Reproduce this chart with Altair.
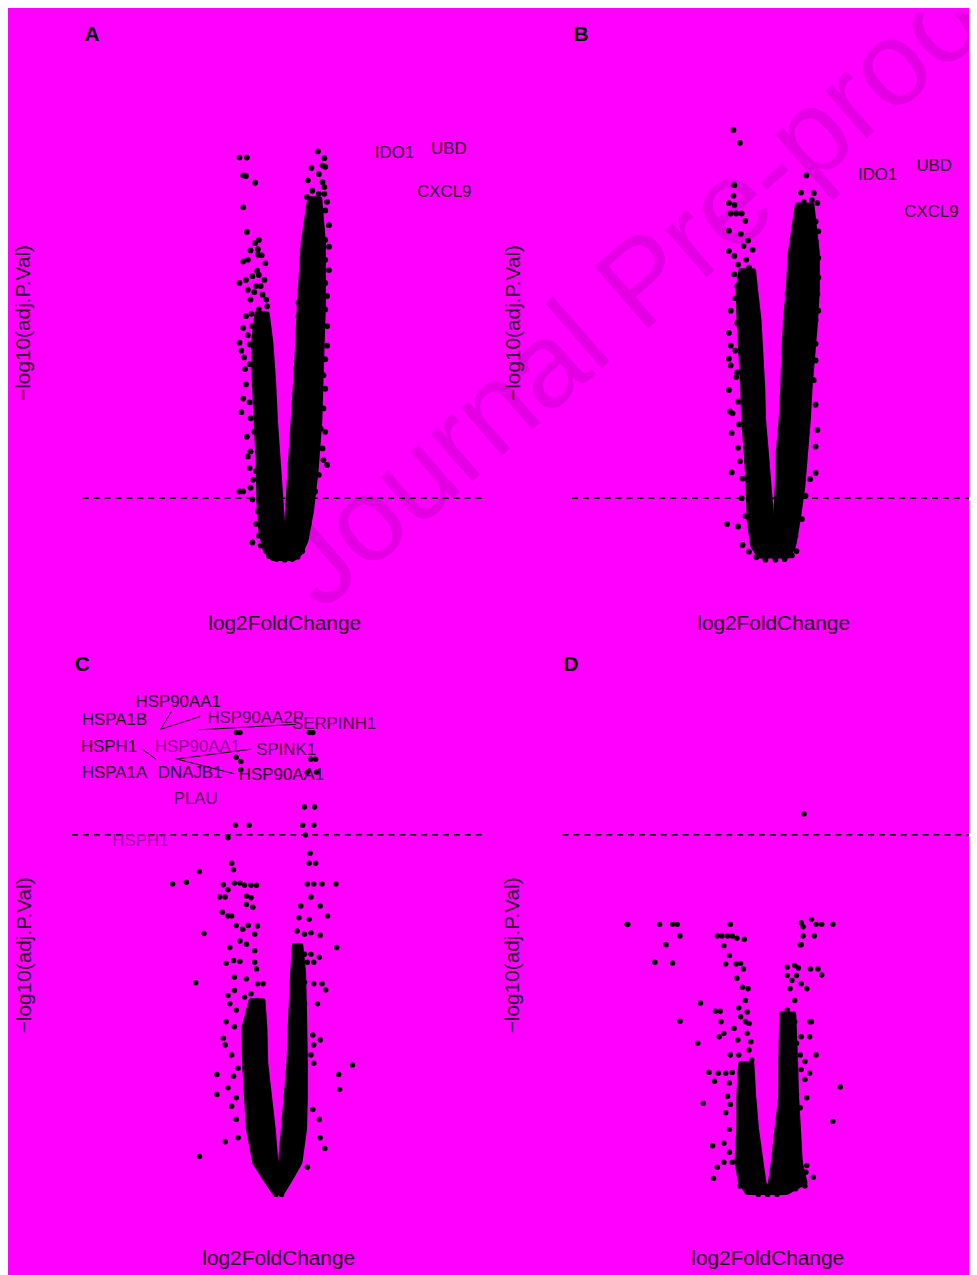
import altair as alt
import pandas as pd

BG = "#FF00FF"
FONT = "Liberation Sans"
WM_COLOR = "#E300E3"
WATERMARK = "Journal Pre-proof"

# ---------------- values ----------------
# scattered genes: (log2FoldChange, -log10(adj.P.Val))
A_left = [(-0.49,6.54),(-0.41,6.54),(-0.45,6.25),(-0.42,6.24),(-0.32,6.13),(-0.45,5.73),(-0.41,5.33),
          (-0.28,5.20),(-0.32,5.15),(-0.37,5.03),(-0.29,5.05),(-0.45,4.85),(-0.40,4.88),(-0.29,4.96),
          (-0.21,4.82),(-0.49,4.50),(-0.42,4.55),(-0.35,4.61),(-0.28,4.63),(-0.22,4.55),(-0.40,4.39),
          (-0.31,4.45),(-0.24,4.31),(-0.37,4.23),(-0.20,4.23),(-0.42,3.96),(-0.28,4.07),(-0.19,4.12),
          (-0.45,3.77),(-0.35,3.80),(-0.49,3.53),(-0.38,3.50),(-0.47,3.40),(-0.44,3.29),(-0.38,3.18),
          (-0.31,3.05),(-0.45,2.62),(-0.38,2.56),(-0.47,2.40),(-0.37,2.30),(-0.33,2.08),(-0.37,1.76),
          (-0.40,1.68),(-0.38,1.49),(-0.31,1.44),(-0.49,1.11),(-0.45,1.11),(-0.37,1.17),(-0.35,0.98),
          (-0.29,0.79),(-0.31,0.58),(-0.35,0.28),(-0.28,0.39),(-0.26,0.23),(-0.33,4.35),(-0.26,4.45),
          (-0.30,4.70),(-0.25,4.95),(-0.36,4.00),(-0.23,3.95),(-0.40,3.65),(-0.43,3.10),(-0.42,2.85),
          (-0.41,2.00),(-0.34,1.30),(-0.17,0.06),(-0.09,0.01),(0.00,0.00),(0.08,0.01),(0.14,0.05),
          (-0.20,0.14),(0.19,0.14)]
A_right = [(0.36,6.64),(0.43,6.53),(0.41,6.41),(0.44,6.39),(0.29,6.37),(0.37,6.27),(0.25,6.17),(0.41,6.14),
           (0.43,6.06),(0.37,5.95),(0.43,5.95),(0.24,5.90),(0.32,5.84),(0.46,5.82),(0.26,5.74),(0.44,5.68),
           (0.24,5.33),(0.48,5.44),(0.44,5.20),(0.23,5.15),(0.48,5.09),(0.21,4.90),(0.44,4.88),(0.21,4.71),
           (0.48,4.71),(0.44,4.50),(0.17,4.39),(0.46,4.29),(0.15,4.18),(0.44,4.07),(0.15,3.96),(0.46,3.80),
           (0.14,3.53),(0.46,3.48),(0.44,3.26),(0.12,3.10),(0.42,3.00),(0.44,2.78),(0.10,2.51),(0.42,2.46),
           (0.39,2.13),(0.44,2.08),(0.41,1.81),(0.46,1.54),(0.42,1.62),(0.37,1.38),(0.33,1.11),(0.28,0.84),
           (0.26,0.58),(0.23,0.36),(0.30,6.00),(0.35,5.60),(0.28,5.50),(0.40,5.30),(0.33,5.05)]
# dense core of each arm: (-log10 p, log2FC from, log2FC to)
A_core_left = [(4.00,-0.30,-0.19),(3.53,-0.34,-0.15),(2.89,-0.33,-0.12),(2.24,-0.31,-0.10),(1.60,-0.29,-0.07),
               (0.95,-0.28,-0.04),(0.47,-0.26,-0.02),(0.15,-0.21,-0.01),(0.02,-0.13,0.00)]
A_core_right = [(5.87,0.27,0.38),(5.15,0.20,0.42),(4.18,0.16,0.42),(3.21,0.13,0.40),(2.24,0.09,0.38),
                (1.44,0.055,0.34),(0.79,0.03,0.29),(0.31,0.012,0.23),(0.11,0.00,0.17),(0.02,0.00,0.10)]
A_labels = ["IDO1", "UBD", "CXCL9"]
A_label_x = [1.19, 1.78, 1.73]
A_label_y = [6.61, 6.68, 5.98]

B_left = [(-0.44,6.99),(-0.37,6.78),(-0.43,6.09),(-0.44,5.92),(-0.49,5.80),(-0.43,5.77),(-0.47,5.63),
          (-0.41,5.63),(-0.35,5.63),(-0.31,5.51),(-0.49,5.35),(-0.28,5.19),(-0.23,5.04),(-0.49,5.02),
          (-0.43,4.94),(-0.39,4.80),(-0.43,4.64),(-0.30,4.88),(-0.27,4.75),(-0.47,4.05),(-0.49,3.69),
          (-0.47,3.48),(-0.49,3.27),(-0.47,3.16),(-0.41,2.97),(-0.49,2.76),(-0.39,2.57),(-0.48,2.41),
          (-0.45,2.38),(-0.46,2.06),(-0.39,1.82),(-0.46,1.42),(-0.34,1.32),(-0.31,0.71),(-0.51,0.58),
          (-0.39,0.54),(-0.34,0.24),(-0.36,5.30),(-0.33,5.10),(-0.40,4.45),(-0.42,4.25),(-0.40,3.85),
          (-0.42,3.40),(-0.40,3.05),(-0.38,2.20),(-0.37,1.60),(-0.35,1.00),(-0.27,0.13),(-0.19,0.04),
          (-0.09,0.00),(0.02,0.00),(0.12,0.01),(0.20,0.07),(0.25,0.14)]
B_right = [(0.36,6.25),(0.30,5.97),(0.44,5.96),(0.33,5.82),(0.42,5.85),(0.48,5.80),(0.24,5.50),(0.46,5.50),
           (0.49,5.34),(0.46,5.18),(0.49,4.91),(0.20,4.91),(0.18,4.64),(0.49,4.59),(0.48,4.32),(0.49,4.05),
           (0.15,4.32),(0.46,3.89),(0.13,3.89),(0.46,3.51),(0.46,3.24),(0.11,3.35),(0.44,2.92),(0.46,2.52),
           (0.48,2.11),(0.46,1.84),(0.46,1.41),(0.40,1.31),(0.35,1.04),(0.31,0.66),(0.24,0.39),(0.28,5.70),
           (0.38,5.65),(0.22,5.20)]
B_core_left = [(4.70,-0.36,-0.22),(4.42,-0.39,-0.20),(3.89,-0.38,-0.16),(3.35,-0.36,-0.14),(2.81,-0.34,-0.12),
               (2.27,-0.33,-0.11),(1.74,-0.30,-0.08),(1.19,-0.28,-0.05),(0.66,-0.27,-0.02),(0.23,-0.23,0.00),
               (0.06,-0.16,0.00)]
B_core_right = [(5.77,0.26,0.42),(4.97,0.18,0.48),(4.42,0.16,0.48),(3.89,0.13,0.46),(3.35,0.11,0.43),
                (2.81,0.10,0.40),(2.27,0.08,0.38),(1.74,0.05,0.35),(1.19,0.04,0.32),(0.66,0.02,0.27),
                (0.23,0.01,0.22),(0.06,0.00,0.16)]
B_labels = ["IDO1", "UBD", "CXCL9"]
B_label_x = [1.14, 1.76, 1.73]
B_label_y = [6.25, 6.41, 5.66]

C_genes = [(-0.46,1.669),(-0.42,1.669),(0.33,1.669),(0.37,1.669),(-0.46,1.580),(-0.41,1.564),(0.35,1.573),
           (0.40,1.573),(-0.41,1.535),(0.31,1.526),(0.41,1.526),(0.28,1.400),(0.39,1.400),(-0.47,1.334),
           (-0.32,1.334),(0.26,1.334),(0.38,1.334),(-0.55,1.289),(0.29,1.299),(0.34,1.233),(0.33,1.197),
           (0.40,1.197),(-0.51,1.197),(-0.49,1.173),(-0.86,1.167),(-1.15,1.122),(-1.00,1.128),(-0.60,1.119),
           (-0.55,1.101),(-0.48,1.125),(-0.42,1.125),(-0.37,1.117),(-0.30,1.117),(-0.24,1.117),(-0.64,1.075),
           (-0.58,1.075),(-0.35,1.078),(-0.30,1.072),(0.31,1.122),(0.38,1.122),(0.47,1.122),(0.62,1.122),
           (0.35,1.075),(0.45,1.042),(0.24,1.042),(-0.61,1.020),(-0.55,1.006),(-0.51,1.006),(-0.35,1.048),
           (-0.28,1.038),(0.53,1.006),(0.22,1.000),(0.33,0.994),(-0.81,0.943),(-0.46,0.972),(-0.39,0.958),
           (-0.33,0.972),(-0.26,0.940),(-0.23,0.970),(0.20,0.952),(0.28,0.940),(0.35,0.946),(0.45,0.937),
           (0.63,0.892),(-0.53,0.892),(-0.42,0.916),(-0.35,0.904),(-0.26,0.881),(0.20,0.892),(0.28,0.868),
           (0.35,0.868),(0.44,0.857),(-0.57,0.835),(-0.49,0.845),(-0.42,0.842),(-0.26,0.839),(-0.24,0.815),
           (0.17,0.839),(0.24,0.839),(0.31,0.839),(0.38,0.839),(-0.90,0.765),(-0.48,0.785),(-0.35,0.779),
           (-0.23,0.761),(-0.17,0.761),(0.24,0.803),(0.28,0.767),(0.38,0.761),(0.47,0.761),(0.51,0.739),
           (-0.55,0.719),(-0.48,0.737),(-0.37,0.713),(-0.30,0.725),(-0.23,0.701),(0.19,0.713),(0.28,0.689),
           (0.42,0.689),(-0.53,0.689),(-0.46,0.666),(-0.57,0.624),(-0.48,0.606),(-0.60,0.564),(-0.58,0.540),
           (-0.51,0.504),(-0.44,0.456),(-0.49,0.427),(0.37,0.576),(0.38,0.540),(0.45,0.558),(0.35,0.504),
           (0.38,0.474),(0.80,0.468),(0.65,0.433),(0.66,0.379),(-0.67,0.433),(-0.67,0.361),(-0.55,0.385),
           (-0.46,0.349),(-0.51,0.319),(-0.46,0.271),(0.37,0.307),(0.44,0.271),(0.45,0.205),(0.50,0.166),
           (-0.58,0.190),(-0.44,0.205),(-0.86,0.137),(0.31,0.098),(-0.03,0.000),(0.03,0.000)]
C_core_left = [(0.70,-0.30,-0.17),(0.60,-0.38,-0.15),(0.473,-0.37,-0.14),(0.355,-0.35,-0.10),(0.237,-0.33,-0.06),
               (0.115,-0.26,-0.03),(0.057,-0.15,-0.01),(0.007,-0.05,0.00)]
C_core_right = [(0.90,0.17,0.24),(0.80,0.15,0.27),(0.652,0.13,0.28),(0.473,0.11,0.29),(0.355,0.08,0.29),
                (0.237,0.05,0.28),(0.115,0.02,0.23),(0.057,0.00,0.13),(0.007,0.00,0.04)]
C_labels = ["HSP90AA1", "HSPA1B", "HSP90AA2P", "SERPINH1", "HSPH1", "HSP90AA1",
            "SPINK1", "HSPA1A", "DNAJB1", "HSP90AA1", "PLAU", "HSPH1"]
C_label_x = [-1.09, -1.78, -0.25, 0.60, -1.84, -0.88, 0.08, -1.78, -0.96, 0.03, -0.90, -1.50]
C_label_y = [1.779, 1.714, 1.723, 1.699, 1.615, 1.615, 1.607, 1.523, 1.523, 1.516, 1.428, 1.278]
C_label_color = ["#1a0a1a", "#1a0a1a", "#4a004a", "#4a004a", "#1a0a1a", "#8a008a",
                 "#3a003a", "#1a0a1a", "#1a0a1a", "#1a0a1a", "#4a004a", "#a800a8"]
C_seg_x = [-1.16, -1.28, -0.87, -1.48, -1.12, -1.10]
C_seg_y = [1.747, 1.681, 1.679, 1.609, 1.573, 1.573]
C_seg_x2 = [-1.28, -0.85, 0.19, -1.33, -0.30, -0.48]
C_seg_y2 = [1.681, 1.727, 1.699, 1.573, 1.609, 1.520]

D_genes = [(0.39,1.375),(-1.51,0.976),(-1.50,0.976),(-1.16,0.976),(-1.02,0.976),(-0.97,0.976),(-0.40,0.976),
           (-0.94,0.934),(-1.09,0.902),(-1.21,0.839),(-1.02,0.836),(-0.54,0.934),(-0.49,0.934),(-0.43,0.934),
           (-0.38,0.934),(-0.33,0.926),(-0.25,0.922),(-0.47,0.899),(-0.41,0.863),(-0.45,0.833),(-0.34,0.833),
           (-0.29,0.835),(-0.26,0.815),(-0.33,0.781),(-0.27,0.749),(-0.21,0.743),(-0.24,0.701),(-0.72,0.692),
           (-0.56,0.662),(-0.51,0.662),(-0.31,0.674),(-0.22,0.659),(-0.29,0.642),(-0.24,0.624),(-0.20,0.618),
           (-0.94,0.626),(-0.50,0.624),(-0.47,0.582),(-0.52,0.570),(-0.36,0.600),(-0.32,0.558),(-0.22,0.582),
           (-0.18,0.552),(-0.75,0.546),(-0.40,0.504),(-0.31,0.504),(-0.20,0.522),(-0.17,0.486),(-0.63,0.441),
           (-0.53,0.438),(-0.57,0.409),(-0.45,0.438),(-0.38,0.441),(-0.41,0.403),(-0.69,0.329),(-0.45,0.295),
           (-0.43,0.355),(-0.40,0.325),(-0.59,0.176),(-0.47,0.185),(-0.41,0.235),(-0.41,0.152),(-0.38,0.116),
           (-0.54,0.098),(-0.47,0.116),(-0.58,0.058),(0.36,0.982),(0.47,0.994),(0.52,0.976),(0.58,0.976),
           (0.70,0.976),(0.38,0.967),(0.38,0.934),(0.50,0.934),(0.35,0.902),(0.36,0.902),(0.21,0.821),
           (0.29,0.827),(0.33,0.818),(0.21,0.791),(0.31,0.791),(0.26,0.773),(0.46,0.815),(0.54,0.815),
           (0.58,0.793),(0.36,0.761),(0.42,0.743),(0.24,0.743),(0.29,0.701),(0.21,0.666),(0.22,0.642),
           (0.29,0.624),(0.19,0.618),(0.45,0.624),(0.47,0.624),(0.28,0.582),(0.31,0.546),(0.36,0.570),
           (0.45,0.570),(0.26,0.510),(0.35,0.504),(0.40,0.480),(0.52,0.504),(0.28,0.444),(0.36,0.451),
           (0.45,0.438),(0.40,0.415),(0.78,0.388),(0.31,0.361),(0.42,0.349),(0.31,0.289),(0.35,0.313),
           (0.70,0.264),(0.29,0.218),(0.33,0.182),(0.31,0.152),(0.35,0.116),(0.42,0.104),(0.49,0.062),
           (0.41,0.080),(-0.30,0.03),(-0.20,0.01),(-0.10,0.00),(0.00,0.00),(0.10,0.00),(0.20,0.01),
           (0.30,0.02),(0.40,0.03)]
D_core_left = [(0.473,-0.29,-0.17),(0.355,-0.31,-0.15),(0.237,-0.31,-0.12),(0.115,-0.33,-0.07),
               (0.043,-0.29,-0.04),(0.007,-0.22,-0.01)]
D_core_right = [(0.652,0.15,0.28),(0.473,0.14,0.30),(0.355,0.14,0.31),(0.237,0.10,0.33),
                (0.115,0.06,0.35),(0.043,0.03,0.40),(0.007,-0.01,0.20)]

# ---------------- panel layout ----------------
PANELS = {
    "A": dict(w=480, h=632, xdom=[-3.0, 2.161], ydom=[-1.306, 8.887], thr=1.0, span=[-2.19, 2.19],
              letter=(-2.09, 8.53), xt=(0.0, -1.05), yt=(-2.83, 3.85), wm=(3.903, 4.484), size=34),
    "B": dict(w=489, h=632, xdom=[-3.174, 2.141], ydom=[-1.306, 8.887], thr=1.0, span=[-2.21, 2.21],
              letter=(-2.11, 8.53), xt=(0.0, -1.05), yt=(-2.85, 3.85), wm=(-1.413, 4.484), size=34),
    "C": dict(w=480, h=635, xdom=[-2.935, 2.226], ydom=[-0.2724, 2.0036], thr=1.3, span=[-2.24, 2.24],
              letter=(-2.13, 1.914), xt=(0.0, -0.232), yt=(-2.75, 0.864), wm=(3.968, 3.290), size=30),
    "D": dict(w=489, h=635, xdom=[-3.043, 2.160], ydom=[-0.2724, 2.0036], thr=1.3, span=[-2.20, 2.20],
              letter=(-2.11, 1.914), xt=(0.0, -0.232), yt=(-2.73, 0.864), wm=None, size=30),
}


def panel(key, genes, core_left, core_right, labels=None, seg=None):
    cfg = PANELS[key]
    xs = alt.Scale(domain=cfg["xdom"], nice=False, zero=False)
    ys = alt.Scale(domain=cfg["ydom"], nice=False, zero=False)

    def X(f):
        return alt.X(f, type="quantitative", scale=xs, axis=None, stack=None)

    def Y(f):
        return alt.Y(f, type="quantitative", scale=ys, axis=None, stack=None)

    layers = []
    if cfg["wm"] is not None:
        wm = pd.DataFrame({"x": [cfg["wm"][0]], "y": [cfg["wm"][1]], "t": [WATERMARK]})
        layers.append(alt.Chart(wm).mark_text(font=FONT, fontSize=120, angle=319, color=WM_COLOR,
                                              align="center", baseline="middle", clip=True)
                      .encode(x=X("x"), y=Y("y"), text="t:N"))

    for arm in (core_left, core_right):
        core = pd.DataFrame(sorted(arm), columns=["neglog10P", "lo", "hi"])
        layers.append(alt.Chart(core).mark_area(orient="horizontal", color="black", stroke="black",
                                                strokeWidth=5, strokeJoin="round", opacity=1)
                      .encode(y=Y("neglog10P"), x=X("lo"), x2="hi:Q"))

    pts = pd.DataFrame(genes, columns=["log2FoldChange", "neglog10P"])
    layers.append(alt.Chart(pts).mark_circle(size=cfg["size"], color="black", opacity=1)
                  .encode(x=X("log2FoldChange"), y=Y("neglog10P")))

    rule = pd.DataFrame({"x": [cfg["span"][0]], "x2": [cfg["span"][1]], "y": [cfg["thr"]]})
    layers.append(alt.Chart(rule).mark_rule(color="black", strokeDash=[6, 5], strokeWidth=1.6, clip=True)
                  .encode(x=X("x"), x2="x2:Q", y=Y("y")))

    if seg is not None:
        sdf = pd.DataFrame({"x": seg[0], "y": seg[1], "x2": seg[2], "y2": seg[3]})
        layers.append(alt.Chart(sdf).mark_rule(color="black", strokeWidth=1)
                      .encode(x=X("x"), y=Y("y"), x2="x2:Q", y2="y2:Q"))

    if labels is not None:
        ldf = pd.DataFrame({"label": labels[0], "x": labels[1], "y": labels[2], "col": labels[3]})
        layers.append(alt.Chart(ldf).mark_text(font=FONT, fontSize=17, align="center", baseline="middle")
                      .encode(x=X("x"), y=Y("y"), text="label:N", color=alt.Color("col:N", scale=None)))

    let = pd.DataFrame({"x": [cfg["letter"][0]], "y": [cfg["letter"][1]], "t": [key]})
    layers.append(alt.Chart(let).mark_text(font=FONT, fontSize=21, fontWeight="bold", color="black",
                                           align="center", baseline="middle")
                  .encode(x=X("x"), y=Y("y"), text="t:N"))

    xt = pd.DataFrame({"x": [cfg["xt"][0]], "y": [cfg["xt"][1]], "t": ["log2FoldChange"]})
    layers.append(alt.Chart(xt).mark_text(font=FONT, fontSize=21, color="#1a0a1a",
                                          align="center", baseline="middle")
                  .encode(x=X("x"), y=Y("y"), text="t:N"))

    yt = pd.DataFrame({"x": [cfg["yt"][0]], "y": [cfg["yt"][1]], "t": ["\u2212log10(adj.P.Val)"]})
    layers.append(alt.Chart(yt).mark_text(font=FONT, fontSize=21, color="#2a0a2a", angle=270,
                                          align="center", baseline="middle")
                  .encode(x=X("x"), y=Y("y"), text="t:N"))

    return alt.layer(*layers).properties(width=cfg["w"], height=cfg["h"])


AB_col = ["#2a002a"] * 3
pA = panel("A", A_left + A_right, A_core_left, A_core_right,
           labels=(A_labels, A_label_x, A_label_y, AB_col))
pB = panel("B", B_left + B_right, B_core_left, B_core_right,
           labels=(B_labels, B_label_x, B_label_y, AB_col))
pC = panel("C", C_genes, C_core_left, C_core_right,
           labels=(C_labels, C_label_x, C_label_y, C_label_color),
           seg=(C_seg_x, C_seg_y, C_seg_x2, C_seg_y2))
pD = panel("D", D_genes, D_core_left, D_core_right)

chart = (alt.concat(pA, pB, pC, pD, columns=2, spacing=0, bounds="flush")
         .properties(background=BG, padding=0)
         .configure_view(stroke=None))

chart.save("out.html", embed_options={"renderer": "svg", "actions": False})
